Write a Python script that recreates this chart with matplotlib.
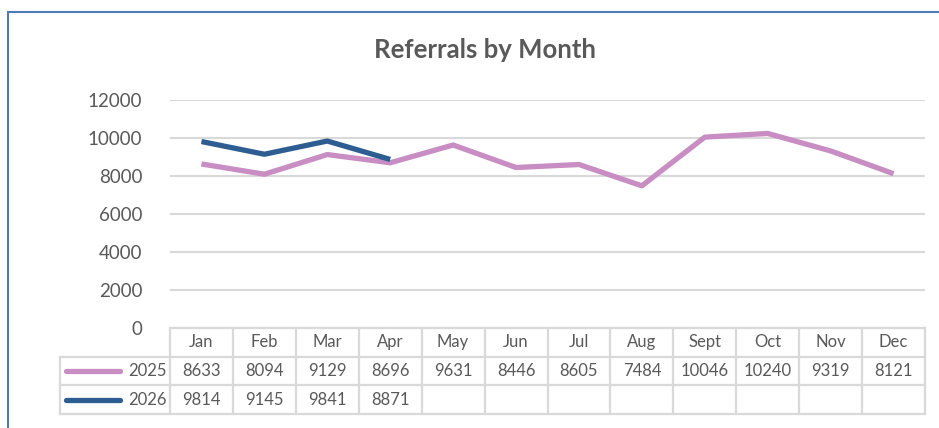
import matplotlib.pyplot as plt
from matplotlib.patches import Rectangle

months = ["Jan", "Feb", "Mar", "Apr", "May", "Jun", "Jul", "Aug", "Sept", "Oct", "Nov", "Dec"]
vals_2025 = [8633, 8094, 9129, 8696, 9631, 8446, 8605, 7484, 10046, 10240, 9319, 8121]
vals_2026 = [9814, 9145, 9841, 8871]
series = [("2025", vals_2025, "#C88DC3"), ("2026", vals_2026, "#2E5D91")]

plt.rcParams["font.family"] = ["Lato", "DejaVu Sans"]
grey = "#595959"
grid_c = "#D9D9D9"

fig = plt.figure(figsize=(9.39, 4.28), dpi=100)
W, H = 939, 428
# chart frame (cut off at right/bottom)
fig.patches.append(Rectangle((8 / W, -0.1), 1.2, (H - 12) / H + 0.1, transform=fig.transFigure,
                             fill=False, ec="#4F7BB5", lw=1.5))

ax = fig.add_axes([170 / W, (H - 328) / H, 755 / W, 228 / H])
x = list(range(len(months)))
for name, vals, col in series:
    ax.plot(x[:len(vals)], vals, color=col, lw=3.8, solid_capstyle="butt", zorder=3)

ax.set_xlim(-0.5, 11.5)
ax.set_ylim(0, 12000)
ax.set_yticks(range(0, 12001, 2000))
ax.yaxis.grid(True, color=grid_c, lw=1.5)
ax.set_axisbelow(True)
for s in ax.spines.values():
    s.set_visible(False)
ax.tick_params(axis="y", length=0, pad=20, labelsize=13.5, labelcolor=grey)
ax.set_xticks([])
ax.set_yticklabels([str(v) for v in range(0, 12001, 2000)])

fig.text(485 / W, 1 - 50 / H, "Referrals by Month", ha="center", va="center",
         fontsize=18.5, fontweight="bold", color=grey)

# data table under the axis
tr = ax.get_xaxis_transform()
row_h = 0.126
lab_left = -2.25
n_rows = 1 + len(series)
bottom = -row_h * n_rows
kw = dict(color=grid_c, lw=1.6, transform=tr, clip_on=False, zorder=1)
ax.plot([-0.5, 11.5], [0, 0], **kw)
for r in range(1, n_rows + 1):
    ax.plot([lab_left, 11.5], [-row_h * r] * 2, **kw)
for k in range(13):
    ax.plot([k - 0.5] * 2, [0, bottom], **kw)
ax.plot([lab_left] * 2, [-row_h, bottom], **kw)

tkw = dict(transform=tr, ha="center", va="center", fontsize=12, color=grey, clip_on=False)
for i, m in enumerate(months):
    ax.text(i, -row_h * 0.5, m, **tkw)
for r, (name, vals, col) in enumerate(series, start=1):
    yc = -row_h * (r + 0.5)
    for i, v in enumerate(vals):
        ax.text(i, yc, str(v), **tkw)
    ax.plot([lab_left + 0.1, lab_left + 0.95], [yc, yc], color=col, lw=3.8,
            solid_capstyle="round", transform=tr, clip_on=False)
    ax.text(-0.56, yc, name, transform=tr, ha="right", va="center", fontsize=12,
            color=grey, clip_on=False)

fig.savefig("out.png", dpi=100)
